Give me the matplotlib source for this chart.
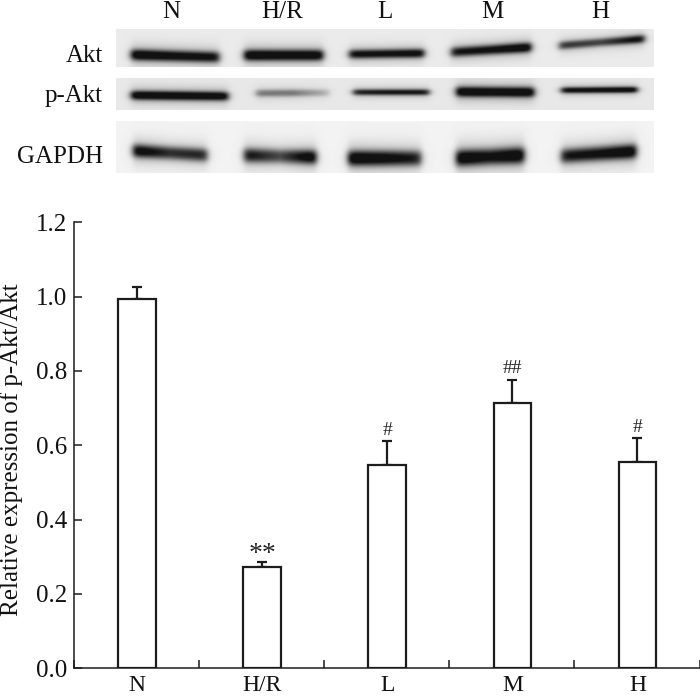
import numpy as np
import matplotlib as mpl
mpl.use("Agg")
from matplotlib import pyplot as plt

mpl.rcParams['font.family'] = ['Liberation Serif', 'DejaVu Serif']

GROUPS = ["N", "H/R", "L", "M", "H"]
MEANS = [0.994, 0.273, 0.546, 0.715, 0.554]
ERRORS = [0.033, 0.014, 0.066, 0.062, 0.066]
MARKS = ["", "**", "#", "##", "#"]
Y_TICKS = [0.0, 0.2, 0.4, 0.6, 0.8, 1.0, 1.2]

BLOT_NAMES = ["Akt", "p-Akt", "GAPDH"]
AKT_DARK = [[1.0, 0.9, 0.85], [1.0, 0.95, 0.95], [0.85, 0.85, 0.9], [0.8, 0.85, 1.0], [0.68, 0.62, 0.9]]
PAKT_DARK = [[1.0, 1.0, 0.95], [0.42, 0.42, 0.18], [0.75, 0.8, 0.8], [1.0, 0.97, 1.0], [0.85, 0.9, 0.95]]
GAPDH_DARK = [[0.95, 0.7, 0.75], [0.85, 0.6, 1.0], [1.0, 0.9, 0.75], [1.0, 0.85, 1.0], [0.8, 0.85, 1.0]]

W, H = 700, 698
INK = "#1c1c1c"


def frac_rect(x0, y0, x1, y1):
    return [x0 / W, 1 - y1 / H, (x1 - x0) / W, (y1 - y0) / H]


def draw_blot(fig, rect, lanes, dark, thick, background):
    x0, y0, x1, y1 = rect
    xs = np.arange(x0, x1, 0.5)
    ys = np.arange(y0, y1, 0.5)
    gx, gy = np.meshgrid(xs, ys)
    img = np.zeros_like(gx)
    for (left, right, y_left, y_right), d, s in zip(lanes, dark, thick):
        mid = (left + right) / 2
        strength = np.interp(gx, [left, mid, right], d)
        window = 1 / (1 + np.exp((left + 1 - gx) / 2.0)) / (1 + np.exp((gx - right + 1) / 2.0))
        centre = np.interp(gx, [left, right], [y_left, y_right])
        core = np.exp(-np.abs((gy - centre) / s) ** 2.4)
        halo = np.exp(-((gy - centre) / (s * 2.0)) ** 2)
        img = np.maximum(img, np.clip(window * strength * (0.95 * core + 0.3 * halo), 0, 1))
    grey = background * (1 - img) + 0.07 * img
    ax = fig.add_axes(frac_rect(x0, y0, x1, y1))
    ax.imshow(grey, cmap="gray", vmin=0, vmax=1, aspect="auto", extent=(x0, x1, y1, y0),
              interpolation="bilinear")
    ax.axis("off")


fig = plt.figure(figsize=(7.0, 6.98), dpi=100)

draw_blot(fig, (116, 29, 654, 67),
          [(130, 220, 54.5, 57), (243, 324, 55, 55), (348, 425, 54, 53), (450, 532, 52, 47), (558, 645, 45.5, 38.5)],
          AKT_DARK, [5.4, 5.4, 4.4, 4.8, 4.0], 0.92)
draw_blot(fig, (116, 78, 654, 110),
          [(130, 229, 95, 96), (255, 330, 93, 92.5), (352, 430, 92, 92), (455, 535, 91.5, 92), (560, 638, 90, 89.5)],
          PAKT_DARK, [4.4, 3.6, 3.0, 5.0, 3.0], 0.91)
draw_blot(fig, (116, 121, 654, 173),
          [(132, 208, 150.5, 155), (243, 317, 155, 157), (347, 422, 158, 158), (455, 525, 158, 155), (560, 637, 156, 151)],
          GAPDH_DARK, [6.5, 7.0, 7.5, 8.0, 7.0], 0.95)

for name, baseline in zip(BLOT_NAMES, [62, 102, 163]):
    fig.text(103 / W, 1 - baseline / H, name, ha="right", va="baseline", fontsize=18, color="#111111")
for name, px in zip(GROUPS, [171, 282, 385, 492, 600]):
    fig.text(px / W, 1 - 18 / H, name, ha="center", va="baseline", fontsize=18, color="#111111")

ax = fig.add_axes(frac_rect(74, 222.3, 699.5, 668.3))
positions = np.arange(len(GROUPS)) + 0.504
ax.bar(positions, MEANS, width=0.3, facecolor="white", edgecolor=INK, linewidth=1.6, zorder=3)
ax.errorbar(positions, MEANS, yerr=[np.zeros(len(ERRORS)), ERRORS], fmt="none", ecolor=INK,
            elinewidth=1.6, capsize=3.3, capthick=1.6, zorder=2)
for x, mean, err, mark in zip(positions, MEANS, ERRORS, MARKS):
    if mark == "**":
        ax.annotate(mark, (x, mean + err), xytext=(0, -4), textcoords="offset points",
                    ha="center", va="bottom", fontsize=20, color="#222222")
    elif mark:
        ax.annotate(mark, (x, mean + err), xytext=(0, 1.5), textcoords="offset points",
                    ha="center", va="bottom", fontsize=14, color="#222222")

ax.set_xlim(0, 5)
ax.set_ylim(0, 1.2)
ax.set_yticks(Y_TICKS)
ax.set_yticklabels([f"{t:.1f}" for t in Y_TICKS])
ax.set_xticks(np.arange(0, 6))
ax.set_xticklabels([])
ax.set_xticks(positions, minor=True)
ax.set_xticklabels(GROUPS, minor=True)
ax.tick_params(axis="y", direction="in", length=6, width=1.1, labelsize=18, pad=5, color=INK, labelcolor="#111111")
ax.tick_params(axis="x", which="major", direction="in", length=6, width=1.1, color=INK)
ax.tick_params(axis="x", which="minor", length=0, labelsize=17, pad=5, labelcolor="#111111")
ax.set_ylabel("Relative expression of p-Akt/Akt", fontsize=18, color="#111111")
ax.yaxis.set_label_coords(-0.082, 0.49)
for side in ["top", "right"]:
    ax.spines[side].set_visible(False)
for side in ["left", "bottom"]:
    ax.spines[side].set_linewidth(1.1)
    ax.spines[side].set_color(INK)

fig.savefig("out.png", dpi=100)
